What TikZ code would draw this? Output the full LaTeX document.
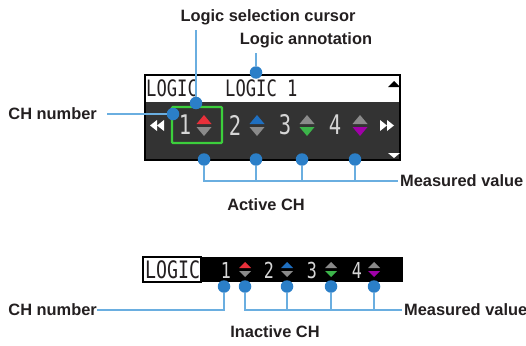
\documentclass[tikz,border=0pt]{standalone}
\usepackage{fontspec}
\setmainfont{Liberation Sans}
\newfontfamily\lcdfont[FakeStretch=0.76]{DejaVu Sans Mono}
\definecolor{guiaAzul}{HTML}{6AAEE0}
\definecolor{puntoAzul}{HTML}{2B7FC8}
\definecolor{panelGris}{HTML}{333333}
\definecolor{textoOscuro}{HTML}{231F20}
\definecolor{canalRojo}{HTML}{E8303A}
\definecolor{canalAzul}{HTML}{1F6FC0}
\definecolor{canalVerde}{HTML}{3CB44A}
\definecolor{canalMorado}{HTML}{A000A8}
\definecolor{apagadoGris}{HTML}{8A8A8A}
\definecolor{cursorVerde}{HTML}{3CCF3C}
\definecolor{cifraGris}{HTML}{D6D6D6}
\usetikzlibrary{
	positioning,
	calc
}
\tikzset{
	rotulo/.style={
		inner sep=0pt,
		text=textoOscuro,
		font=\bfseries\fontsize{16.4}{18}\selectfont
	},
	punto/.style={
		circle,
		fill=puntoAzul,
		inner sep=0pt,
		minimum size=12.5pt
	},
	guia/.style={
		guiaAzul,
		line width=1.3pt
	},
	lcd/.style={
		inner sep=0pt,
		anchor=west,
		text=textoOscuro,
		font=\lcdfont\fontsize{22.6}{24}\selectfont
	},
	cifra/.style={
		inner sep=0pt,
		text=cifraGris,
		font=\lcdfont\fontsize{27}{28}\selectfont
	},
	cifraChica/.style={
		inner sep=0pt,
		text=cifraGris,
		font=\lcdfont\fontsize{22}{24}\selectfont
	}
}

\begin{document}
\begin{tikzpicture}[x=1pt,y=-1pt]
		\useasboundingbox (0,0) rectangle (526,345);
		% pantalla activa
		\fill[white] (145,75) rectangle (400,102);
		\fill[panelGris] (145,102) rectangle (400,160);
		\draw[line width=1.2pt] (145,75) rectangle (400,160);
		\node[lcd] (txtLogic) at (146,88.5) {LOGIC};
		\node[lcd] (txtNombre) at (225,88.5) {LOGIC 1};
		\fill (388,87) -- (400,87) -- (394,81) -- cycle;
		\fill[white] (388,153) -- (400,153) -- (394,158) -- cycle;
		\fill[white] (157,120) -- (157,131) -- (150,125.5) -- cycle;
		\fill[white] (164,120) -- (164,131) -- (157,125.5) -- cycle;
		\fill[white] (380,120) -- (380,131) -- (387,125.5) -- cycle;
		\fill[white] (387,120) -- (387,131) -- (394,125.5) -- cycle;
		\draw[cursorVerde, line width=2.3pt, rounded corners=1pt] (172,107) rectangle (222,143);
		\foreach \n/\xd/\xt/\cs/\ci in {1/185/204/canalRojo/apagadoGris, 2/235/257/canalAzul/apagadoGris, 3/285/307/apagadoGris/canalVerde, 4/335/360/apagadoGris/canalMorado}{
			\node[cifra] (cifra\n) at (\xd,125) {\n};
			\fill[\cs] (\xt-7.5,124) -- (\xt+7.5,124) -- (\xt,115) -- cycle;
			\fill[\ci] (\xt-7.5,127) -- (\xt+7.5,127) -- (\xt,136) -- cycle;
		}
		% rotulos activos
		\node[rotulo] (lSel) at (268,17) {Logic selection cursor};
		\node[rotulo] (lAnot) at (306,40) {Logic annotation};
		\node[rotulo, anchor=east] (lCH) at (97,114) {CH number};
		\node[rotulo, anchor=west] (lMed) at (400,181) {Measured value};
		\node[rotulo] (lActivo) at (266,205) {Active CH};
		\node[punto] (pSel) at (196,103) {};
		\node[punto] (pAnot) at (256,72.5) {};
		\node[punto] (pCH) at (173,114) {};
		\foreach \i/\x in {1/204, 2/256, 3/302, 4/355}{
			\node[punto] (pMed\i) at (\x,159.5) {};
		}
		\draw[guia, shorten >=5pt] (pSel) -- (pSel |- lSel.south);
		\draw[guia, shorten >=5pt] (pAnot) -- (pAnot |- lAnot.south);
		\draw[guia, shorten <=10pt] (lCH.east) -- (pCH);
		\draw[guia, shorten >=2pt] (pMed1) |- (lMed.west);
		\foreach \i in {2,3,4}{
			\draw[guia] (pMed\i) -- (pMed\i |- lMed.west);
		}
		% pantalla inactiva
		\fill (143,257) rectangle (403,282);
		\draw[fill=white, line width=1.2pt] (143,257) rectangle (201,282);
		\node[lcd, font=\lcdfont\fontsize{24}{26}\selectfont] (txtLogicB) at (145,269.5) {LOGIC};
		\foreach \n/\xd/\xt/\cs/\ci in {1/226/245/canalRojo/apagadoGris, 2/269/287/canalAzul/apagadoGris, 3/312/331/apagadoGris/canalVerde, 4/357/374/apagadoGris/canalMorado}{
			\node[cifraChica] (cifraB\n) at (\xd,270) {\n};
			\fill[\cs] (\xt-6,268) -- (\xt+6,268) -- (\xt,262) -- cycle;
			\fill[\ci] (\xt-6,271) -- (\xt+6,271) -- (\xt,277) -- cycle;
		}
		% rotulos inactivos
		\node[rotulo, anchor=east] (lCHB) at (97,310) {CH number};
		\node[rotulo, anchor=west] (lMedB) at (404,310) {Measured value};
		\node[rotulo] (lInactivo) at (275,332) {Inactive CH};
		\node[punto] (pCHB) at (224,286.5) {};
		\foreach \i/\x in {1/245, 2/287, 3/331, 4/374}{
			\node[punto] (pMedB\i) at (\x,286.5) {};
		}
		\draw[guia] (pCHB) |- (lCHB.east);
		\draw[guia, shorten >=2pt] (pMedB1) |- (lMedB.west);
		\foreach \i in {2,3,4}{
			\draw[guia] (pMedB\i) -- (pMedB\i |- lMedB.west);
		}
	\end{tikzpicture}
\end{document}
